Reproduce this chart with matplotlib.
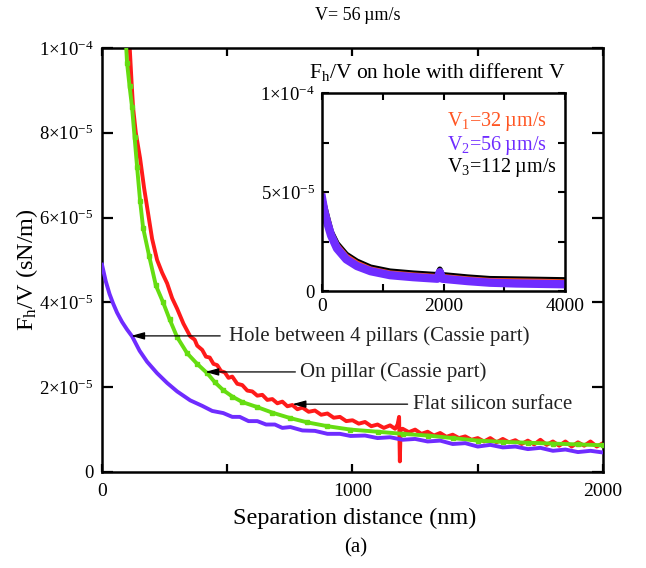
import numpy as np
import matplotlib
matplotlib.use('Agg')
import matplotlib.pyplot as plt
from matplotlib.ticker import FixedLocator

plt.rcParams['font.family'] = ['Liberation Serif', 'DejaVu Serif']
plt.rcParams['mathtext.fontset'] = 'custom'
plt.rcParams['mathtext.rm'] = 'Liberation Serif'
plt.rcParams['mathtext.it'] = 'Liberation Serif:italic'

# Flat silicon surface (red), nm / 1e-5 sN/m
flat_x = [108, 118, 124, 135, 152, 168, 184, 200, 220, 240, 260, 280, 300, 325, 352,
          370, 380, 400, 415, 430, 445, 460, 475, 490, 505, 520, 540, 560, 580, 600, 620,
          640, 660, 680, 700, 720, 740, 760, 780, 800, 825, 850, 875, 900, 925, 950, 975,
          1000, 1025, 1050, 1075, 1100, 1125, 1150, 1170, 1180, 1186, 1189, 1192, 1200,
          1225, 1250, 1275, 1300, 1325, 1350, 1375, 1400, 1425, 1450, 1475, 1500, 1525,
          1550, 1575, 1600, 1625, 1650, 1675, 1700, 1725, 1750, 1775, 1800, 1825, 1850,
          1875, 1900, 1925, 1950, 1975, 2000]
flat_y = [10.3, 9.2, 8.6, 8.0, 7.4, 6.7, 6.1, 5.5, 5.0, 4.7, 4.45, 4.1, 3.85, 3.5, 3.2,
          3.12, 2.98, 2.88, 2.72, 2.7, 2.55, 2.52, 2.38, 2.35, 2.22, 2.25, 2.08, 2.05, 1.92,
          1.9, 1.8, 1.82, 1.7, 1.72, 1.62, 1.66, 1.55, 1.58, 1.48, 1.52, 1.42, 1.45, 1.35,
          1.38, 1.28, 1.3, 1.2, 1.22, 1.14, 1.18, 1.08, 1.12, 1.04, 1.1, 1.02, 1.12, 1.3,
          0.25, 1.0, 1.02, 0.94, 1.0, 0.9, 0.95, 0.86, 0.92, 0.83, 0.88, 0.8, 0.84, 0.76,
          0.8, 0.72, 0.8, 0.7, 0.78, 0.7, 0.75, 0.66, 0.74, 0.65, 0.76, 0.64, 0.72, 0.62,
          0.72, 0.6, 0.7, 0.62, 0.72, 0.6, 0.68]

# On pillar (green)
pillar_x = [95, 100, 110, 120, 130, 140, 152, 164, 188, 215, 244, 270, 300, 340, 380,
            420, 450, 484, 520, 560, 620, 680, 752, 820, 900, 992, 1100, 1200, 1300,
            1400, 1500, 1600, 1700, 1800, 1900, 2000]
pillar_y = [10.2, 9.65, 9.1, 8.6, 7.9, 7.2, 6.4, 5.76, 5.1, 4.4, 4.0, 3.6, 3.18, 2.8, 2.55,
            2.33, 2.12, 1.93, 1.78, 1.65, 1.53, 1.4, 1.27, 1.17, 1.08, 1.0, 0.95, 0.9, 0.86,
            0.8, 0.74, 0.71, 0.69, 0.67, 0.65, 0.63]

# Hole between 4 pillars (purple)
hole_x = [0, 15, 30, 44, 60, 80, 100, 120, 150, 180, 220, 260, 300, 352, 400, 440, 484,
          520, 550, 585, 620, 655, 690, 720, 752, 800, 850, 900, 950, 992, 1050, 1100,
          1150, 1200, 1250, 1300, 1350, 1400, 1450, 1500, 1550, 1600, 1650, 1700, 1750,
          1800, 1850, 1900, 1950, 2000]
hole_y = [4.89, 4.5, 4.2, 3.98, 3.76, 3.54, 3.36, 3.2, 2.86, 2.6, 2.33, 2.1, 1.9,
          1.69, 1.56, 1.44, 1.39, 1.3, 1.3, 1.2, 1.2, 1.12, 1.12, 1.04, 1.06, 0.98, 0.97,
          0.9, 0.9, 0.85, 0.86, 0.8, 0.82, 0.76, 0.78, 0.72, 0.74, 0.66, 0.68, 0.6, 0.64,
          0.58, 0.6, 0.54, 0.57, 0.5, 0.53, 0.47, 0.5, 0.46]

# inset: hole with different V
inset_x = [0, 40, 82, 150, 247, 400, 576, 800, 1120, 1500, 1900, 1940, 1980, 2400,
           2765, 3200, 3600, 4000]
inset_v1 = [4.8, 4.2, 3.7, 2.9, 2.3, 1.75, 1.4, 1.1, 0.9, 0.8, 0.72, 1.0, 0.72, 0.6,
            0.52, 0.5, 0.48, 0.45]
inset_v2 = [4.7, 4.0, 3.5, 2.8, 2.15, 1.6, 1.26, 1.0, 0.8, 0.7, 0.62, 0.95, 0.62, 0.5,
            0.42, 0.38, 0.36, 0.34]
inset_v3 = [4.8, 4.3, 3.8, 3.0, 2.4, 1.85, 1.5, 1.2, 1.0, 0.9, 0.82, 1.1, 0.82, 0.7,
            0.62, 0.6, 0.58, 0.56]

main_yticks = [0, 2e-5, 4e-5, 6e-5, 8e-5, 1e-4]
main_ylabels = ['0', r'2×10$^{-5}$', r'4×10$^{-5}$', r'6×10$^{-5}$', r'8×10$^{-5}$',
                r'1×10$^{-4}$']
inset_yticks = [0, 5e-5, 1e-4]
inset_ylabels = ['0', r'5×10$^{-5}$', r'1×10$^{-4}$']

RED = '#ff1a1a'
GREEN = '#66dd11'
PURPLE = '#6f2cff'
ORANGE = '#ff5522'

W, H = 646, 568
fig = plt.figure(figsize=(W / 100, H / 100), dpi=100)


def box(l, t, r, b):
    return [l / W, 1 - b / H, (r - l) / W, (b - t) / H]


ax = fig.add_axes(box(102, 48, 603, 472))
sc = 1e-5
ax.plot(flat_x, np.array(flat_y) * sc, color=RED, lw=2.8, zorder=2)
ax.plot(pillar_x, np.array(pillar_y) * sc, color=GREEN, lw=2.8, marker='s', ms=2.5,
        zorder=3)
ax.plot(hole_x, np.array(hole_y) * sc, color=PURPLE, lw=2.8, zorder=4)
ax.set_xlim(0, 2000)
ax.set_ylim(0, 1e-4)
ax.xaxis.set_major_locator(FixedLocator([0, 1000, 2000]))
ax.xaxis.set_minor_locator(FixedLocator([500, 1500]))
ax.set_xticklabels(['0', '1000', '2000'])
ax.yaxis.set_major_locator(FixedLocator(main_yticks))
ax.set_yticklabels(main_ylabels)
ax.tick_params(which='both', direction='in', top=True, right=True, width=1.6)
ax.tick_params(axis='y', which='major', length=8, pad=6, labelsize=13.5)
ax.tick_params(axis='x', which='both', length=6, pad=8, labelsize=14)
for s in ax.spines.values():
    s.set_linewidth(1.8)

arrow = dict(arrowstyle='-|>,head_length=0.8,head_width=0.22', color='k', lw=0.9,
             shrinkA=0, shrinkB=0)
notes = [('Hole between 4 pillars (Cassie part)', 116, 472, 508, 3.21e-5),
         ('On pillar (Cassie part)', 412, 772, 792, 2.36e-5),
         ('Flat silicon surface', 760, 1220, 1240, 1.6e-5)]
for label, xh, xt, xl, yv in notes:
    ax.annotate('', xy=(xh, yv), xytext=(xt, yv), arrowprops=arrow, zorder=6)
    ax.text(xl, yv, label, fontsize=15, va='center', ha='left', color='#222222', zorder=6)

ins = fig.add_axes(box(322, 93, 565, 291))
ins.plot(inset_x, np.array(inset_v3) * sc, color='k', lw=4)
ins.plot(inset_x, np.array(inset_v1) * sc, color=ORANGE, lw=4)
ins.plot(inset_x, np.array(inset_v2) * sc, color=PURPLE, lw=6)
ins.set_xlim(0, 4000)
ins.set_ylim(0, 1e-4)
ins.xaxis.set_major_locator(FixedLocator([0, 2000, 4000]))
ins.xaxis.set_minor_locator(FixedLocator([1000, 3000]))
ins.set_xticklabels(['0', '2000', '4000'])
ins.yaxis.set_major_locator(FixedLocator(inset_yticks))
ins.yaxis.set_minor_locator(FixedLocator([2.5e-5, 7.5e-5]))
ins.set_yticklabels(inset_ylabels)
ins.tick_params(which='both', direction='in', top=True, right=True, width=1.5,
                length=5, labelsize=14, pad=5)
ins.tick_params(axis='y', labelsize=13.5)
for s in ins.spines.values():
    s.set_linewidth(1.8)
ins.text(0.514, 0.854, 'V$_1$=32\u2009µm/s', transform=ins.transAxes, color=ORANGE,
         fontsize=14.5, va='center')
ins.text(0.514, 0.737, 'V$_2$=56\u2009µm/s', transform=ins.transAxes, color=PURPLE,
         fontsize=14.5, va='center')
ins.text(0.514, 0.626, 'V$_3$=112\u2009µm/s', transform=ins.transAxes, color='k',
         fontsize=14.5, va='center')

fig.text(437 / W, 1 - 72 / H, 'F$_\\mathrm{h}$/V on hole with different V', fontsize=15.5,
         ha='center', va='center')
fig.text(358 / W, 1 - 15 / H, 'V= 56\u2009µm/s', fontsize=13, ha='center', va='center')
fig.text(355 / W, 1 - 518 / H, 'Separation distance (nm)', fontsize=17.5,
         ha='center', va='center')
fig.text(27 / W, 1 - 270 / H, 'F$_\\mathrm{h}$/V (sN/m)', fontsize=17.5, rotation=90,
         ha='center', va='center')
fig.text(356 / W, 1 - 548 / H, '(a)', fontsize=15, ha='center', va='center')

fig.savefig('out.png', dpi=100)
